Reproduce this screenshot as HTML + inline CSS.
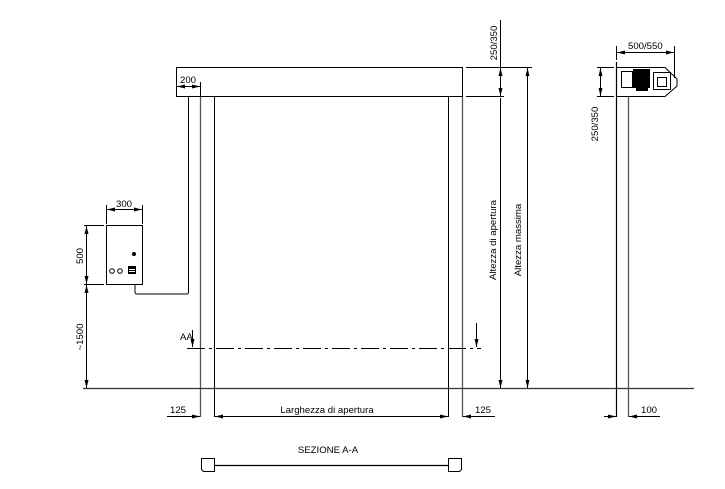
<!DOCTYPE html>
<html><head><meta charset="utf-8"><style>
html,body{margin:0;padding:0;background:#fff}
svg{display:block}
text{font-family:"Liberation Sans",sans-serif;font-size:9.6px;fill:#000}
</style></head><body>
<svg width="725" height="489" viewBox="0 0 725 489" xmlns="http://www.w3.org/2000/svg">
<defs>
<marker id="a" viewBox="0 0 8 4" refX="8" refY="2" markerWidth="8" markerHeight="4" orient="auto-start-reverse" markerUnits="userSpaceOnUse"><path d="M0,0 L8,2 L0,4z" fill="#000"/></marker>
</defs>
<g stroke="#000" stroke-width="1" fill="none">
<rect x="176.5" y="67.5" width="286" height="29"/>
<line x1="188.5" y1="97" x2="188.5" y2="292"/>
<line x1="200.5" y1="97" x2="200.5" y2="417" stroke="#555" stroke-width="1.3"/>
<line x1="214.5" y1="97" x2="214.5" y2="417"/>
<line x1="448.5" y1="97" x2="448.5" y2="417"/>
<line x1="462.5" y1="97" x2="462.5" y2="417" stroke="#555" stroke-width="1.3"/>
<path d="M188.5,97 V292 q0,2 -2,2 H137 q-2,0 -2,-2 V284"/>
<rect x="106.5" y="225.5" width="36" height="59"/>
<line x1="83" y1="388.5" x2="694" y2="388.5" stroke="#333" stroke-width="1.2"/>
<line x1="187" y1="348.5" x2="481" y2="348.5" stroke-dasharray="18,4,3,4"/>
<line x1="192.5" y1="330" x2="192.5" y2="347" marker-end="url(#a)"/>
<line x1="476.5" y1="323" x2="476.5" y2="347" marker-end="url(#a)"/>
<line x1="177" y1="86.5" x2="200" y2="86.5" marker-start="url(#a)" marker-end="url(#a)"/>
<line x1="200.5" y1="82" x2="200.5" y2="97"/>
<line x1="106.5" y1="205" x2="106.5" y2="224"/>
<line x1="142.5" y1="205" x2="142.5" y2="224"/>
<line x1="107" y1="209.5" x2="142" y2="209.5" marker-start="url(#a)" marker-end="url(#a)"/>
<line x1="84" y1="225.5" x2="104" y2="225.5"/>
<line x1="84" y1="284.5" x2="104" y2="284.5"/>
<line x1="86.5" y1="226" x2="86.5" y2="284" marker-start="url(#a)" marker-end="url(#a)"/>
<line x1="86.5" y1="285" x2="86.5" y2="388" marker-start="url(#a)" marker-end="url(#a)"/>
<line x1="466" y1="67.5" x2="532" y2="67.5"/>
<line x1="466" y1="96.5" x2="504" y2="96.5"/>
<line x1="500.5" y1="20" x2="500.5" y2="67" />
<line x1="500.5" y1="68" x2="500.5" y2="96" marker-start="url(#a)" marker-end="url(#a)"/>
<line x1="500.5" y1="98" x2="500.5" y2="388" marker-end="url(#a)"/>
<line x1="527.5" y1="68" x2="527.5" y2="388" marker-start="url(#a)" marker-end="url(#a)"/>
<line x1="167" y1="416.5" x2="200" y2="416.5" marker-end="url(#a)"/>
<line x1="215" y1="416.5" x2="448" y2="416.5" marker-start="url(#a)" marker-end="url(#a)"/>
<line x1="463" y1="416.5" x2="495" y2="416.5" marker-start="url(#a)"/>
<path d="M201.5,458.5 h13 v13 h-11 l-2,-2z"/>
<path d="M461.5,458.5 h-13 v13 h11 l2,-2z"/>
<line x1="214" y1="465.5" x2="449" y2="465.5" stroke-width="1.3"/>
<line x1="616.5" y1="62" x2="616.5" y2="417" stroke-width="1.2"/>
<line x1="628.5" y1="96" x2="628.5" y2="417" stroke="#555" stroke-width="1.3"/>
<path d="M616.5,67.5 H665 L677,79 V86 L665,96.5 H616.5"/>
<line x1="597" y1="67.5" x2="614" y2="67.5"/>
<line x1="597" y1="96.5" x2="614" y2="96.5"/>
<line x1="600.5" y1="68" x2="600.5" y2="96" marker-start="url(#a)" marker-end="url(#a)"/>
<line x1="616.5" y1="46" x2="616.5" y2="60"/>
<line x1="674.5" y1="46" x2="674.5" y2="78"/>
<line x1="617" y1="52.5" x2="674" y2="52.5" marker-start="url(#a)" marker-end="url(#a)"/>
<line x1="604" y1="416.5" x2="616" y2="416.5" marker-end="url(#a)"/>
<line x1="629" y1="416.5" x2="660" y2="416.5" marker-start="url(#a)"/>
<rect x="621.5" y="71.5" width="11" height="16"/>
<rect x="653.5" y="72.5" width="17" height="17"/>
<rect x="657.5" y="77.5" width="9" height="9"/>
</g>
<g fill="#000">
<rect x="633" y="69" width="17" height="19"/>
<rect x="636" y="88" width="12" height="3"/>
<circle cx="134" cy="254" r="2"/>
<rect x="128" y="266" width="8" height="8"/>
</g>
<g stroke="#fff" stroke-width="1"><line x1="129" y1="269.5" x2="135" y2="269.5"/><line x1="129" y1="271.5" x2="135" y2="271.5"/></g>
<g fill="none" stroke="#000"><circle cx="112" cy="271" r="2.3"/><circle cx="120" cy="271" r="2.3"/></g>
<text x="180" y="83">200</text>
<text x="116" y="207">300</text>
<text transform="translate(83,256) rotate(-90)" text-anchor="middle">500</text>
<text transform="translate(83,337) rotate(-90)" text-anchor="middle">~1500</text>
<text x="180" y="340">AA</text>
<text transform="translate(497,43) rotate(-90)" text-anchor="middle">250/350</text>
<text transform="translate(496,240) rotate(-90)" text-anchor="middle">Altezza di apertura</text>
<text transform="translate(521,240) rotate(-90)" text-anchor="middle">Altezza massima</text>
<text x="170" y="413">125</text>
<text x="327" y="413" text-anchor="middle">Larghezza di apertura</text>
<text x="475" y="413">125</text>
<text x="328" y="453" text-anchor="middle">SEZIONE A-A</text>
<text x="628" y="49">500/550</text>
<text transform="translate(598,124) rotate(-90)" text-anchor="middle">250/350</text>
<text x="641" y="413">100</text>
</svg>
</body></html>
